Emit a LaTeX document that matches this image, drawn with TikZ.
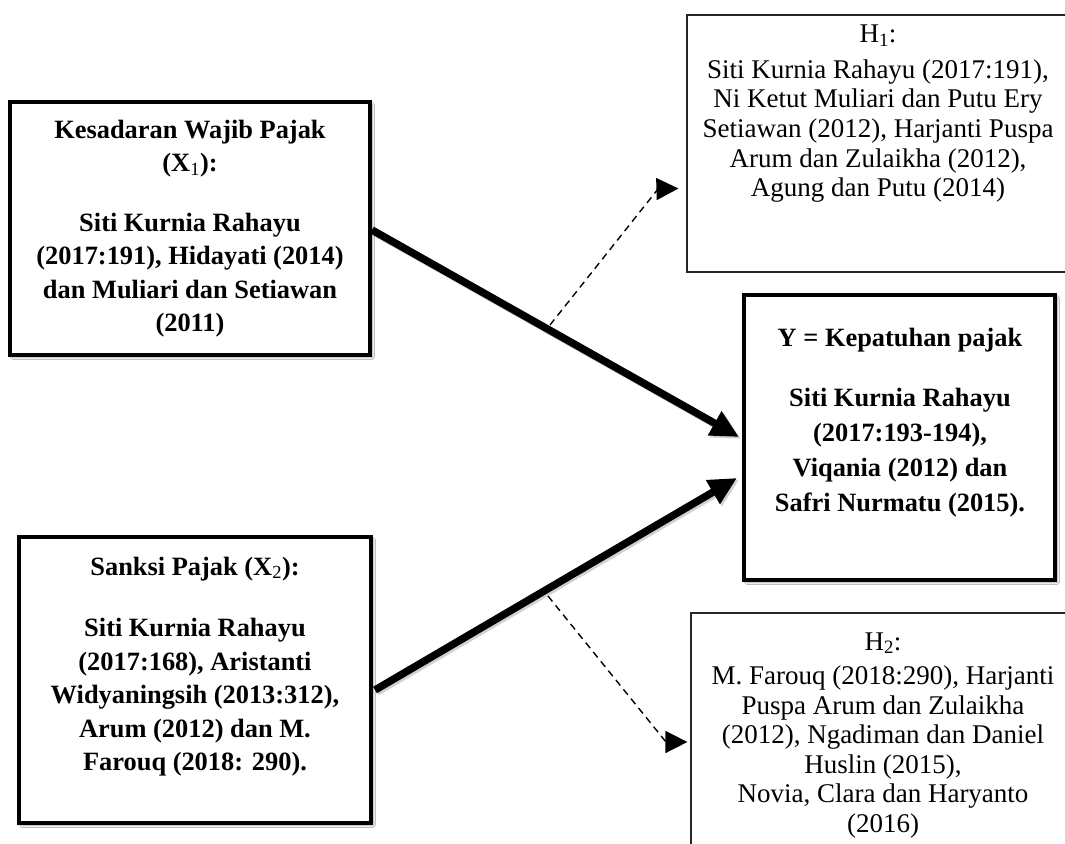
\documentclass[tikz,border=0pt]{standalone}
\usepackage{fontspec}
\setmainfont{Liberation Serif}
\usetikzlibrary{arrows.meta,shadows.blur,calc}
\newcommand{\stacklines}[1]{\vtop{\halign{\hfil##\hfil\cr#1\crcr}}}
\begin{document}
\begin{tikzpicture}[x=1pt,y=-1pt,
  bigbox/.style={draw=black,line width=4pt,fill=white,inner sep=0pt,
    blur shadow={shadow xshift=2.5pt,shadow yshift=-2.5pt,shadow blur steps=6,shadow opacity=35}},
  thinbox/.style={draw=black!85,line width=1.2pt,fill=white,inner sep=0pt},
  boldtxt/.style={font=\fontsize{26.4}{33.5}\selectfont\bfseries,inner sep=0pt,anchor=base},
  regtxt/.style={font=\fontsize{27}{29.5}\selectfont,inner sep=0pt,anchor=base},
  thickarrow/.style={line width=7.5pt,-{Triangle[length=28pt,width=26pt]}},
  arrowshade/.style={line width=7.5pt,draw=black,opacity=0.18,-{Triangle[length=28pt,width=26pt]},
    transform canvas={shift={(2pt,-2pt)}}},
  dasharrow/.style={line width=1.4pt,dash pattern=on 7pt off 5pt,-{Triangle[length=22pt,width=22pt]}},
]
\useasboundingbox (0,0) rectangle (1065,843);
\clip (0,0) rectangle (1065,843);
\fill[white] (0,0) rectangle (1065,843);

% boxes
\node[bigbox,minimum width=360pt,minimum height=253pt] (x1) at (190,228.5) {};
\node[bigbox,minimum width=352pt,minimum height=286pt] (x2) at (195,680) {};
\node[bigbox,minimum width=311pt,minimum height=285pt] (yb) at (899.5,437.5) {};
\node[thinbox,minimum width=382pt,minimum height=257pt] (h1) at (878,143.5) {};
\node[thinbox,minimum width=384pt,minimum height=260pt] (h2) at (883,743) {};

% texts
\node[boldtxt] (x1t) at (190,138) {\stacklines{Kesadaran Wajib Pajak\cr
  (X\textsubscript{\mdseries 1}):\cr\noalign{\vskip 26pt}
  Siti Kurnia Rahayu\cr
  (2017:191), Hidayati (2014)\cr
  dan Muliari dan Setiawan\cr
  (2011)}};
\node[boldtxt] (x2t) at (195,575) {\stacklines{Sanksi Pajak (X\textsubscript{\mdseries 2}):\cr\noalign{\vskip 28pt}
  Siti Kurnia Rahayu\cr
  (2017:168), Aristanti\cr
  Widyaningsih (2013:312),\cr
  Arum (2012) dan M.\cr
  Farouq (2018: 290).}};
\node[boldtxt,font=\fontsize{26.4}{35}\selectfont\bfseries] (yt) at (900,346) {\stacklines{Y = Kepatuhan pajak\cr\noalign{\vskip 25pt}
  Siti Kurnia Rahayu\cr
  (2017:193-194),\cr
  Viqania (2012) dan\cr
  Safri Nurmatu (2015).}};
\node[regtxt] (h1t) at (878,43) {\stacklines{H\textsubscript{1}:\cr\noalign{\vskip 6pt}
  Siti Kurnia Rahayu (2017:191),\cr
  Ni Ketut Muliari dan Putu Ery\cr
  Setiawan (2012), Harjanti Puspa\cr
  Arum dan Zulaikha (2012),\cr
  Agung dan Putu (2014)}};
\node[regtxt] (h2t) at (883,650) {\stacklines{H\textsubscript{2}:\cr\noalign{\vskip 5pt}
  M. Farouq (2018:290), Harjanti\cr
  Puspa Arum dan Zulaikha\cr
  (2012), Ngadiman dan Daniel\cr
  Huslin (2015),\cr
  Novia, Clara dan Haryanto\cr
  (2016)}};

% connector points
\coordinate (a1s) at ($(x1.east)+(0,1.5)$);
\coordinate (a1e) at ($(yb.west)+(-3,-0.5)$);
\coordinate (a2s) at ($(x2.east)+(2,10)$);
\coordinate (a2e) at ($(yb.west)+(-5,40.5)$);
\coordinate (d1s) at (550,325);
\coordinate (d1m) at (658,189);
\coordinate (d1e) at ($(h1.west)+(-8,45)$);
\coordinate (d2s) at (548,596);
\coordinate (d2m) at (666,742);
\coordinate (d2e) at ($(h2.west)+(-3,-1)$);

% thick arrows
\draw[arrowshade] (a1s) -- (a1e);
\draw[arrowshade] (a2s) -- (a2e);
\draw[thickarrow] (a1s) -- (a1e);
\draw[thickarrow] (a2s) -- (a2e);

% dashed arrows
\draw[dasharrow] (d1s) -- (d1m) -- (d1e);
\draw[dasharrow] (d2s) -- (d2m) -- (d2e);
\end{tikzpicture}
\end{document}
